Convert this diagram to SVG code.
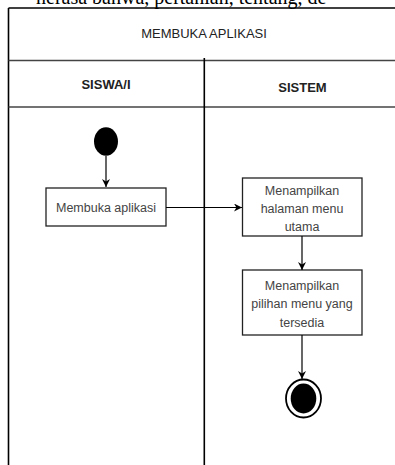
<svg xmlns="http://www.w3.org/2000/svg" width="395" height="465" viewBox="0 0 395 465">
<style>
.lane{stroke:#000;stroke-width:1.6;fill:none}
.hl{stroke:#444;stroke-width:1.6;fill:none}
.box{fill:#fff;stroke:#222;stroke-width:1.3}
.t{font-family:"Liberation Sans",Arial,sans-serif;font-size:12.5px;fill:#444;text-anchor:middle}
.h{font-family:"Liberation Sans",Arial,sans-serif;font-size:13px;fill:#222;text-anchor:middle}
.edge{stroke:#000;stroke-width:1.2;fill:none;marker-end:url(#ah)}
</style>
<defs>
<marker id="ah" viewBox="0 0 10 10" refX="10" refY="5" markerWidth="8" markerHeight="8" markerUnits="userSpaceOnUse" orient="auto">
<path d="M0,0 L10,5 L0,10 L3,5 Z" fill="#000"/>
</marker>
</defs>
<rect width="395" height="465" fill="#fff"/>
<text x="36" y="4" font-family="'Liberation Serif','Times New Roman',serif" font-size="20" fill="#000">nerasa bahwa, pertanian, tentang, de</text>
<g id="swimlanes">
<line class="lane" x1="8.5" y1="8" x2="395" y2="8"/>
<line class="lane" x1="8.5" y1="8" x2="8.5" y2="465"/>
<line class="hl" x1="8.5" y1="60.5" x2="395" y2="60.5"/>
<line class="hl" x1="8.5" y1="107" x2="395" y2="107"/>
<line class="lane" x1="204.3" y1="58" x2="204.3" y2="465"/>
<text class="h" x="204" y="38">MEMBUKA APLIKASI</text>
<text class="h" x="106" y="89" font-weight="bold" fill="#333" font-size="12.5">SISWA/I</text>
<text class="h" x="302.5" y="92" font-weight="bold" fill="#111" font-size="12">SISTEM</text>
</g>
<g id="start">
<ellipse cx="106" cy="141.5" rx="12" ry="14.3" fill="#000"/>
</g>
<g id="membuka">
<rect class="box" x="46" y="188" width="120" height="38"/>
<text class="t" x="106" y="211.5">Membuka aplikasi</text>
</g>
<g id="halaman">
<rect class="box" x="242.5" y="178" width="119.5" height="58"/>
<text class="t" x="302" y="194.5">Menampilkan</text>
<text class="t" x="302" y="212.5">halaman menu</text>
<text class="t" x="302" y="230.5">utama</text>
</g>
<g id="pilihan">
<rect class="box" x="242.5" y="270" width="119.5" height="65"/>
<text class="t" x="302" y="289.5">Menampilkan</text>
<text class="t" x="302" y="308">pilihan menu yang</text>
<text class="t" x="302" y="326.5">tersedia</text>
</g>
<g id="end">
<ellipse cx="303.5" cy="398.5" rx="17.5" ry="19" fill="#fff" stroke="#000" stroke-width="1.8"/>
<ellipse cx="303.5" cy="398.5" rx="12.8" ry="15" fill="#000"/>
</g>
<g id="connectors">
<path class="edge" d="M106,156 L106,187"/>
<path class="edge" d="M166,207.5 L242,207.5"/>
<path class="edge" d="M302,236 L302,270"/>
<path class="edge" d="M302,335 L302,379"/>
</g>
</svg>
